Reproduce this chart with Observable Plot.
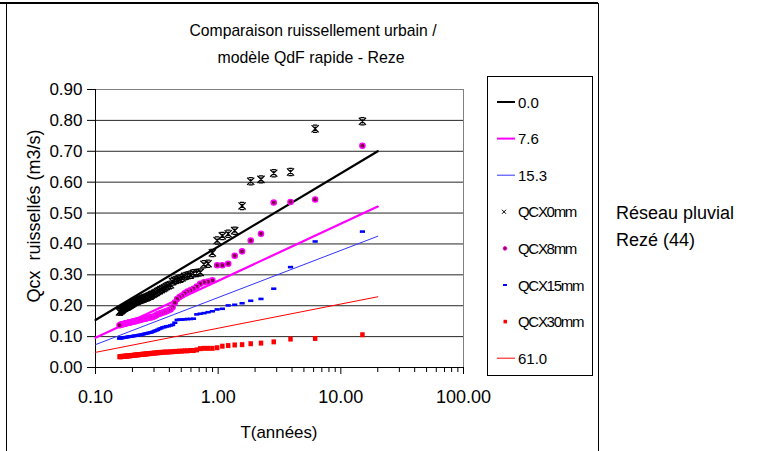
<!DOCTYPE html>
<html>
<head>
<meta charset="utf-8">
<script src="https://cdn.jsdelivr.net/npm/d3@7"></script>
<script src="https://cdn.jsdelivr.net/npm/@observablehq/plot@0.6"></script>
<style>
  html, body { margin: 0; padding: 0; background: #fff; }
  #chart { width: 758px; height: 451px; }
</style>
</head>
<body>
<div id="chart"></div>
<script>
// Return periods (years) of the ranked events
const T = [15.000, 6.176, 3.889, 2.838, 2.234, 1.842, 1.567, 1.364, 1.207, 1.082,
  0.981, 0.897, 0.827, 0.766, 0.714, 0.669, 0.629, 0.593, 0.561, 0.533,
  0.507, 0.484, 0.463, 0.443, 0.425, 0.409, 0.393, 0.379, 0.366, 0.354,
  0.342, 0.331, 0.321, 0.312, 0.303, 0.294, 0.286, 0.279, 0.271, 0.264,
  0.258, 0.252, 0.246, 0.240, 0.235, 0.230, 0.225, 0.220, 0.216, 0.211,
  0.207, 0.203, 0.199, 0.196, 0.192, 0.189, 0.185, 0.182, 0.179, 0.176,
  0.173, 0.170, 0.167, 0.165, 0.162, 0.160, 0.157];

const qcx0mm = [0.797, 0.773, 0.633, 0.629, 0.609, 0.603, 0.523, 0.443, 0.433, 0.426,
  0.411, 0.371, 0.336, 0.334, 0.308, 0.306, 0.305, 0.300, 0.298, 0.295,
  0.290, 0.287, 0.284, 0.282, 0.278, 0.268, 0.265, 0.262, 0.258, 0.255,
  0.252, 0.249, 0.246, 0.243, 0.240, 0.237, 0.235, 0.232, 0.230, 0.228,
  0.226, 0.225, 0.223, 0.222, 0.220, 0.219, 0.217, 0.216, 0.214, 0.213,
  0.211, 0.209, 0.207, 0.205, 0.203, 0.201, 0.199, 0.197, 0.196, 0.195,
  0.193, 0.191, 0.189, 0.187, 0.185, 0.183, 0.180];

const qcx8mm = [0.718, 0.544, 0.536, 0.534, 0.433, 0.411, 0.376, 0.362, 0.336, 0.331,
  0.331, 0.282, 0.278, 0.276, 0.271, 0.262, 0.255, 0.250, 0.246, 0.240,
  0.233, 0.228, 0.222, 0.210, 0.195, 0.188, 0.185, 0.182, 0.180, 0.178,
  0.176, 0.174, 0.172, 0.169, 0.166, 0.164, 0.163, 0.162, 0.161, 0.160,
  0.159, 0.158, 0.157, 0.156, 0.155, 0.154, 0.153, 0.152, 0.151, 0.150,
  0.149, 0.149, 0.148, 0.147, 0.146, 0.146, 0.145, 0.144, 0.143, 0.143,
  0.142, 0.141, 0.140, 0.140, 0.139, 0.138, 0.137];

const qcx15mm = [0.440, 0.408, 0.325, 0.255, 0.222, 0.216, 0.208, 0.203, 0.201, 0.190,
  0.188, 0.182, 0.179, 0.176, 0.174, 0.172, 0.158, 0.157, 0.157, 0.156,
  0.155, 0.155, 0.154, 0.145, 0.138, 0.136, 0.134, 0.133, 0.131, 0.130,
  0.127, 0.125, 0.122, 0.120, 0.118, 0.116, 0.114, 0.113, 0.112, 0.111,
  0.110, 0.109, 0.108, 0.107, 0.106, 0.105, 0.105, 0.104, 0.103, 0.103,
  0.102, 0.102, 0.101, 0.101, 0.100, 0.100, 0.099, 0.099, 0.098, 0.098,
  0.097, 0.097, 0.096, 0.096, 0.095, 0.095, 0.094];

const qcx30mm = [0.106, 0.094, 0.092, 0.083, 0.079, 0.077, 0.074, 0.073, 0.071, 0.069,
  0.064, 0.062, 0.062, 0.062, 0.061, 0.057, 0.055, 0.055, 0.054, 0.054,
  0.053, 0.053, 0.052, 0.052, 0.051, 0.051, 0.050, 0.050, 0.050, 0.049,
  0.049, 0.048, 0.048, 0.047, 0.047, 0.046, 0.046, 0.045, 0.045, 0.044,
  0.044, 0.043, 0.043, 0.043, 0.042, 0.042, 0.041, 0.041, 0.041, 0.040,
  0.040, 0.039, 0.039, 0.039, 0.038, 0.038, 0.038, 0.037, 0.037, 0.037,
  0.036, 0.036, 0.036, 0.036, 0.035, 0.035, 0.035];

// QdF model curves (straight on the log axis) : endpoints
const curveT = [0.1, 20];
const curve0_0 = [0.154, 0.700];
const curve7_6 = [0.096, 0.521];
const curve15_3 = [0.074, 0.425];
const curve61_0 = [0.049, 0.229];

const yTicks = [0, 0.1, 0.2, 0.3, 0.4, 0.5, 0.6, 0.7, 0.8, 0.9];
const xMajor = [0.1, 1, 10, 100];
const xMinor = [0.2,0.3,0.4,0.5,0.6,0.7,0.8,0.9, 2,3,4,5,6,7,8,9, 20,30,40,50,60,70,80,90];

const title1 = "Comparaison ruissellement urbain /";
const title2 = "modèle QdF rapide - Reze";
const xLabel = "T(années)";
const yLabel = "Qcx  ruissellés (m3/s)";
const sideText = ["Réseau pluvial", "Rezé (44)"];
const legendItems = [
  {label: "0.0", kind: "line", color: "#000000", w: 2},
  {label: "7.6", kind: "line", color: "#ff00ff", w: 2},
  {label: "15.3", kind: "line", color: "#3333ff", w: 1},
  {label: "QCX0mm", kind: "star"},
  {label: "QCX8mm", kind: "circle"},
  {label: "QCX15mm", kind: "dash"},
  {label: "QCX30mm", kind: "square"},
  {label: "61.0", kind: "line", color: "#ff0000", w: 1}
];

const pts = (ys) => T.map((t, i) => ({t, q: ys[i]}));
const crv = (ys) => curveT.map((t, i) => ({t, q: ys[i]}));

const rOf = (size) => Math.sqrt(size / Math.PI);
const starSymbol = {draw(ctx, size) {
  const r = rOf(size);
  ctx.moveTo(-r, -r); ctx.lineTo(r, r);
  ctx.moveTo(r, -r); ctx.lineTo(-r, r);
  ctx.moveTo(0, -r * 0.6); ctx.lineTo(0, r * 0.6);
  ctx.moveTo(-r * 0.6, -r); ctx.lineTo(r * 0.6, -r);
  ctx.moveTo(-r * 0.6, r); ctx.lineTo(r * 0.6, r);
}};
const dashSymbol = {draw(ctx, size) {
  const r = rOf(size);
  ctx.rect(-r, -r * 0.5, 2 * r, r);
}};
const squareSymbol = {draw(ctx, size) {
  const r = rOf(size);
  ctx.rect(-r * 0.9, -r, 1.8 * r, 2 * r);
}};

const FONT = "'Liberation Sans', Arial, Helvetica, sans-serif";

const plot = Plot.plot({
  width: 758,
  height: 451,
  marginLeft: 95,
  marginRight: 295,
  marginTop: 89,
  marginBottom: 84,
  style: {fontFamily: FONT, fontSize: "17px", background: "#fff", color: "#000"},
  x: {type: "log", domain: [0.1, 100]},
  y: {domain: [0, 0.9]},
  marks: [
    Plot.gridY(yTicks, {stroke: "#000", strokeOpacity: 0.85}),
    Plot.ruleX([100], {stroke: "#808080", strokeWidth: 1}),
    Plot.ruleY([0.9], {stroke: "#808080", strokeWidth: 1}),
    Plot.ruleY([0], {stroke: "#000", strokeWidth: 1}),
    Plot.ruleX([0.1], {stroke: "#000", strokeWidth: 1}),
    Plot.axisY({ticks: yTicks, tickFormat: d3.format(".2f"), tickSize: 8, tickPadding: 5, fontSize: 17, label: null, stroke: "#000"}),
    Plot.axisX({ticks: xMajor, tickFormat: d3.format(".2f"), tickSize: 7, tickPadding: 16, fontSize: 18, label: null, stroke: "#000"}),
    Plot.axisX({ticks: xMinor, tickFormat: () => "", tickSize: 5, label: null, stroke: "#000"}),
    Plot.line(crv(curve61_0), {x: "t", y: "q", stroke: "#ff0000", strokeWidth: 1}),
    Plot.line(crv(curve15_3), {x: "t", y: "q", stroke: "#3333ff", strokeWidth: 1}),
    Plot.line(crv(curve7_6), {x: "t", y: "q", stroke: "#ff00ff", strokeWidth: 2.2}),
    Plot.line(crv(curve0_0), {x: "t", y: "q", stroke: "#000000", strokeWidth: 2.2}),
    Plot.dot(pts(qcx30mm), {x: "t", y: "q", symbol: squareSymbol, r: 2.5, fill: "#ff0000", stroke: "none"}),
    Plot.dot(pts(qcx15mm), {x: "t", y: "q", symbol: dashSymbol, r: 2.6, fill: "#0000ff", stroke: "none"}),
    Plot.dot(pts(qcx8mm), {x: "t", y: "q", r: 2.6, fill: "#7a0040", stroke: "#ff00ff", strokeWidth: 1.4}),
    Plot.dot(pts(qcx0mm), {x: "t", y: "q", symbol: starSymbol, r: 3.6, fill: "none", stroke: "#000", strokeWidth: 1.25})
  ]
});

document.getElementById("chart").appendChild(plot);

const svg = d3.select(plot);

// outer chart frame
svg.append("line").attr("x1", 0).attr("x2", 598).attr("y1", 3).attr("y2", 3).attr("stroke", "#000").attr("stroke-width", 2);
svg.append("line").attr("x1", 6.5).attr("x2", 6.5).attr("y1", 3).attr("y2", 451).attr("stroke", "#000").attr("stroke-width", 1);
svg.append("line").attr("x1", 598.5).attr("x2", 598.5).attr("y1", 3).attr("y2", 451).attr("stroke", "#000").attr("stroke-width", 1);

// title
svg.append("text").attr("x", 313).attr("y", 36).attr("text-anchor", "middle")
  .attr("font-size", 17).attr("textLength", 247).attr("lengthAdjust", "spacingAndGlyphs").text(title1);
svg.append("text").attr("x", 311).attr("y", 63).attr("text-anchor", "middle")
  .attr("font-size", 17).attr("textLength", 187).attr("lengthAdjust", "spacingAndGlyphs").text(title2);

// axis titles
svg.append("text").attr("x", 279).attr("y", 438).attr("text-anchor", "middle")
  .attr("font-size", 17).attr("textLength", 77).attr("lengthAdjust", "spacingAndGlyphs").text(xLabel);
svg.append("text").attr("transform", "translate(40,216) rotate(-90)").attr("text-anchor", "middle")
  .attr("font-size", 18).text(yLabel);

// side text
sideText.forEach((s, i) => {
  svg.append("text").attr("x", 616).attr("y", 219 + i * 27).attr("text-anchor", "start")
    .attr("font-size", 18).text(s);
});

// legend
svg.append("rect").attr("x", 487.5).attr("y", 76.5).attr("width", 105).attr("height", 299)
  .attr("fill", "#fff").attr("stroke", "#000").attr("stroke-width", 1);
legendItems.forEach((d, i) => {
  const cy = 102 + i * 36.6;
  const g = svg.append("g");
  if (d.kind === "line") {
    g.append("line").attr("x1", 497).attr("x2", 515).attr("y1", cy).attr("y2", cy)
      .attr("stroke", d.color).attr("stroke-width", d.w);
  } else if (d.kind === "star") {
    const r = 2;
    g.append("path").attr("d", `M${504-r},${cy-r}L${504+r},${cy+r}M${504+r},${cy-r}L${504-r},${cy+r}`)
      .attr("stroke", "#000").attr("fill", "none").attr("stroke-width", 1);
  } else if (d.kind === "circle") {
    g.append("circle").attr("cx", 505).attr("cy", cy).attr("r", 1.8).attr("fill", "#7a0040")
      .attr("stroke", "#ff00ff").attr("stroke-width", 1);
  } else if (d.kind === "dash") {
    g.append("rect").attr("x", 503).attr("y", cy - 1).attr("width", 4).attr("height", 2).attr("fill", "#0000ff");
  } else if (d.kind === "square") {
    g.append("rect").attr("x", 503.5).attr("y", cy - 1.8).attr("width", 3.5).attr("height", 3.6).attr("fill", "#ff0000");
  }
  const t = g.append("text").attr("x", 518).attr("y", cy + 5.5).attr("text-anchor", "start")
    .attr("font-size", 15).text(d.label);
  if (d.label.startsWith("QCX")) t.attr("letter-spacing", "-1.3px");
});
</script>
</body>
</html>
